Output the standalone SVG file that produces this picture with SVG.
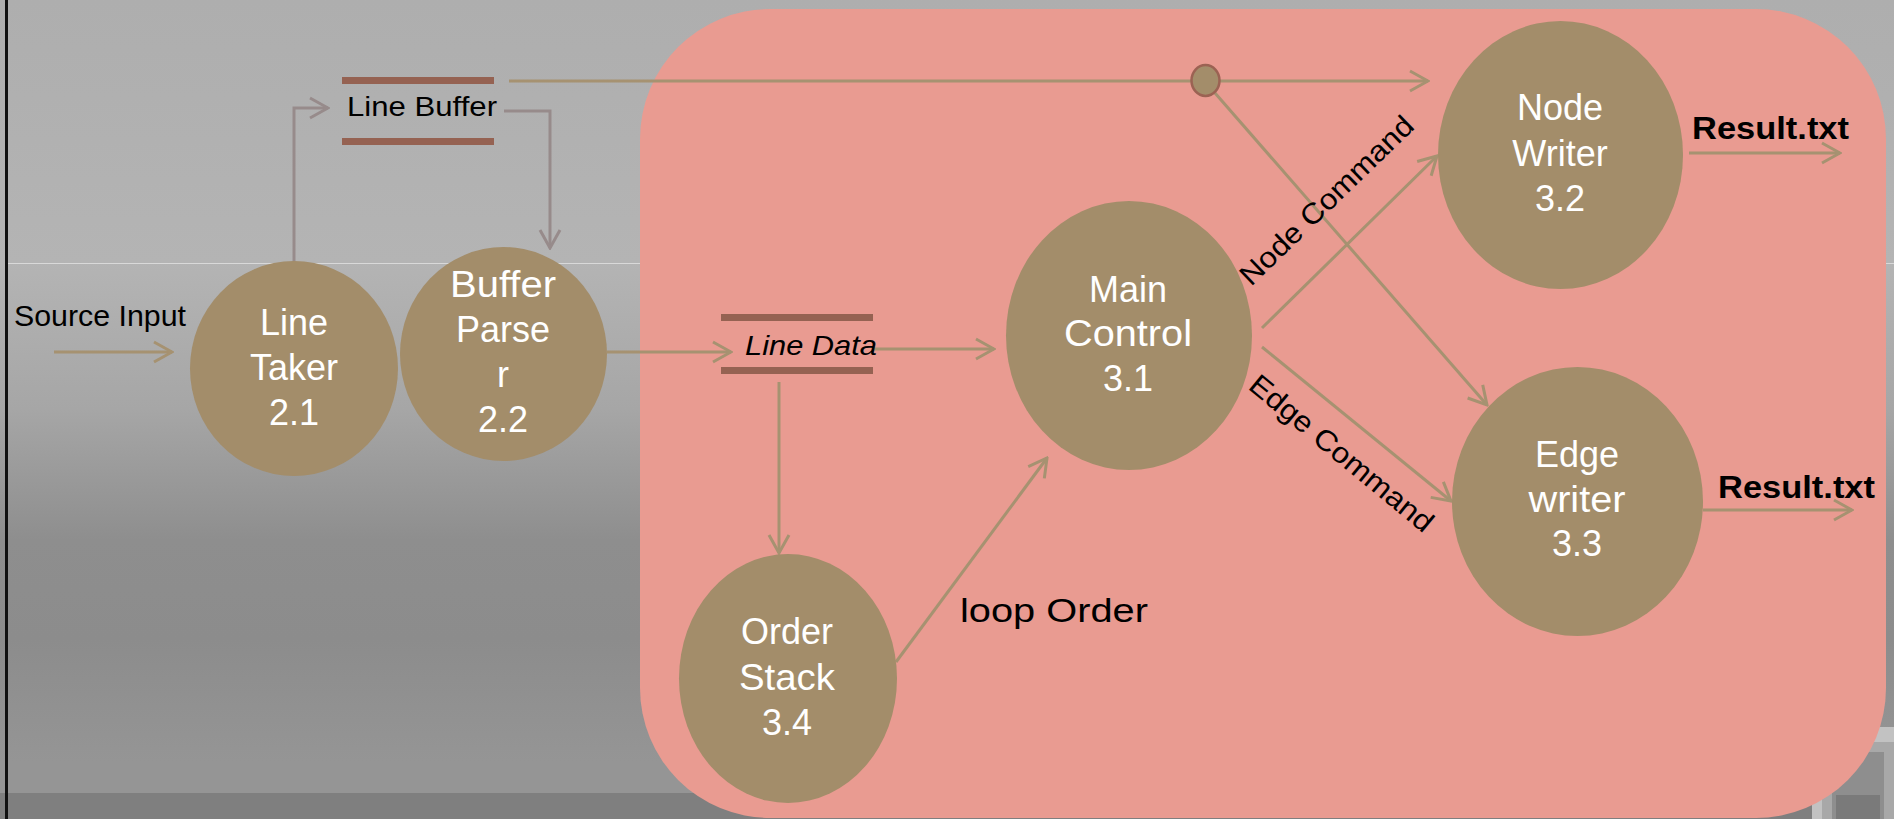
<svg xmlns="http://www.w3.org/2000/svg" width="1894" height="819" viewBox="0 0 1894 819">
  <defs>
    <linearGradient id="bgGrad" x1="0" y1="0" x2="0" y2="1">
      <stop offset="0" stop-color="#AEAEAE"/>
      <stop offset="0.12" stop-color="#B0B0B0"/>
      <stop offset="0.32" stop-color="#B4B4B4"/>
      <stop offset="0.50" stop-color="#A6A6A6"/>
      <stop offset="0.66" stop-color="#8E8E8E"/>
      <stop offset="0.78" stop-color="#8C8C8C"/>
      <stop offset="0.93" stop-color="#959595"/>
      <stop offset="1" stop-color="#959595"/>
    </linearGradient>
    <marker id="arrowTan" markerUnits="userSpaceOnUse" markerWidth="22" markerHeight="24" viewBox="0 0 22 24" refX="20" refY="12" orient="auto">
      <path d="M2,2 L20,12 L2,22" fill="none" stroke="#A69271" stroke-width="3"/>
    </marker>
    <marker id="arrowGray" markerUnits="userSpaceOnUse" markerWidth="22" markerHeight="24" viewBox="0 0 22 24" refX="20" refY="12" orient="auto">
      <path d="M2,2 L20,12 L2,22" fill="none" stroke="#978B8B" stroke-width="3"/>
    </marker>
  </defs>
  <style>
    .proc { fill: #A38D6A; }
    .plabel { font-family: "Liberation Sans", Arial, sans-serif; font-size: 36px; fill: #FFFFFF; text-anchor: middle; }
    .label { font-family: "Liberation Sans", Arial, sans-serif; fill: #000000; }
    .bar { fill: #956252; }
    .flow { fill: none; stroke: #A69271; stroke-width: 3; marker-end: url(#arrowTan); }
    .flowGray { fill: none; stroke: #978B8B; stroke-width: 3; marker-end: url(#arrowGray); }
    .result { font-family: "Liberation Sans", Arial, sans-serif; font-size: 32px; font-weight: bold; fill: #000000; }
  </style>

  <!-- backdrop -->
  <rect x="0" y="0" width="1894" height="819" fill="url(#bgGrad)"/>
  <rect x="0" y="793" width="1894" height="26" fill="#7F7F7F"/>
  <line x1="8" y1="263.5" x2="1894" y2="263.5" stroke="#D9D9D9" stroke-width="1"/>
  <rect x="5" y="0" width="3" height="819" fill="#111111"/>
  <g id="corner-frame">
    <rect x="1812" y="727" width="82" height="92" fill="#C2C2C2"/>
    <rect x="1822" y="742" width="72" height="77" fill="#A8A8A8"/>
    <rect x="1832" y="752" width="52" height="67" fill="#8E8E8E"/>
    <rect x="1836" y="795" width="44" height="24" fill="#7A7A7A"/>
  </g>

  <!-- process group boundary -->
  <rect id="subsystem" x="640" y="9" width="1246" height="809" rx="130" ry="130" fill="#E99B91"/>

  <!-- connectors -->
  <g id="connectors">
    <path class="flow" d="M54,352 L172,352"/>
    <path class="flowGray" d="M294,262 L294,108 L328,108"/>
    <path class="flowGray" d="M504,111 L550,111 L550,248"/>
    <path class="flow" d="M509,81 L1428,81"/>
    <path class="flow" d="M1215,93 L1487,405"/>
    <path class="flow" d="M607,352 L731,352"/>
    <path class="flow" d="M873,349 L994,349"/>
    <path class="flow" d="M779,382 L779,553"/>
    <path class="flow" d="M896,662 L1047,458"/>
    <path class="flow" d="M1262,328 L1437,156"/>
    <path class="flow" d="M1262,347 L1451,501"/>
    <path class="flow" d="M1689,153 L1840,153"/>
    <path class="flow" d="M1703,510 L1852,510"/>
    <ellipse id="junction" cx="1205.5" cy="80.5" rx="14" ry="15.5" fill="#A38D6A" stroke="#9B6253" stroke-width="2.5"/>
  </g>

  <!-- flow labels -->
  <g id="flow-labels">
    <text class="label" x="14" y="326" font-size="29" textLength="172" lengthAdjust="spacingAndGlyphs">Source Input</text>
    <text class="label" x="1251" y="287" font-size="29" textLength="229" lengthAdjust="spacingAndGlyphs" transform="rotate(-44 1251 287)">Node Command</text>
    <text class="label" x="1247" y="388" font-size="29" textLength="229" lengthAdjust="spacingAndGlyphs" transform="rotate(39.5 1247 388)">Edge Command</text>
    <text class="label" x="960" y="622" font-size="34" textLength="188" lengthAdjust="spacingAndGlyphs">loop Order</text>
    <text class="result" x="1692" y="139" textLength="157" lengthAdjust="spacingAndGlyphs">Result.txt</text>
    <text class="result" x="1718" y="498" textLength="157" lengthAdjust="spacingAndGlyphs">Result.txt</text>
  </g>

  <!-- data stores -->
  <g id="store-line-buffer">
    <rect class="bar" x="342" y="77" width="152" height="7"/>
    <rect class="bar" x="342" y="138" width="152" height="7"/>
    <text class="label" x="347" y="116" font-size="28" textLength="150" lengthAdjust="spacingAndGlyphs">Line Buffer</text>
  </g>
  <g id="store-line-data">
    <rect class="bar" x="721" y="314" width="152" height="7"/>
    <rect class="bar" x="721" y="367" width="152" height="7"/>
    <text class="label" x="745" y="355" font-size="28" font-style="italic" textLength="132" lengthAdjust="spacingAndGlyphs">Line Data</text>
  </g>

  <!-- processes -->
  <g id="line-taker">
    <ellipse class="proc" cx="294" cy="368.5" rx="104" ry="107.5"/>
    <text class="plabel" x="294" y="335">Line</text>
    <text class="plabel" x="294" y="380">Taker</text>
    <text class="plabel" x="294" y="425">2.1</text>
  </g>
  <g id="buffer-parser">
    <ellipse class="proc" cx="503.5" cy="354" rx="103.5" ry="107"/>
    <text class="plabel" x="503" y="297" textLength="106" lengthAdjust="spacingAndGlyphs">Buffer</text>
    <text class="plabel" x="503" y="342">Parse</text>
    <text class="plabel" x="503" y="387">r</text>
    <text class="plabel" x="503" y="432">2.2</text>
  </g>
  <g id="main-control">
    <ellipse class="proc" cx="1129" cy="335.5" rx="123" ry="134.5"/>
    <text class="plabel" x="1128" y="302">Main</text>
    <text class="plabel" x="1128" y="346" textLength="128" lengthAdjust="spacingAndGlyphs">Control</text>
    <text class="plabel" x="1128" y="391">3.1</text>
  </g>
  <g id="node-writer">
    <ellipse class="proc" cx="1560.5" cy="155" rx="122.5" ry="134"/>
    <text class="plabel" x="1560" y="120">Node</text>
    <text class="plabel" x="1560" y="166">Writer</text>
    <text class="plabel" x="1560" y="211">3.2</text>
  </g>
  <g id="edge-writer">
    <ellipse class="proc" cx="1577.5" cy="501.5" rx="125.5" ry="134.5"/>
    <text class="plabel" x="1577" y="467">Edge</text>
    <text class="plabel" x="1577" y="512" textLength="97" lengthAdjust="spacingAndGlyphs">writer</text>
    <text class="plabel" x="1577" y="556">3.3</text>
  </g>
  <g id="order-stack">
    <ellipse class="proc" cx="788" cy="678.5" rx="109" ry="124.5"/>
    <text class="plabel" x="787" y="644">Order</text>
    <text class="plabel" x="787" y="690" textLength="96" lengthAdjust="spacingAndGlyphs">Stack</text>
    <text class="plabel" x="787" y="735">3.4</text>
  </g>
</svg>
